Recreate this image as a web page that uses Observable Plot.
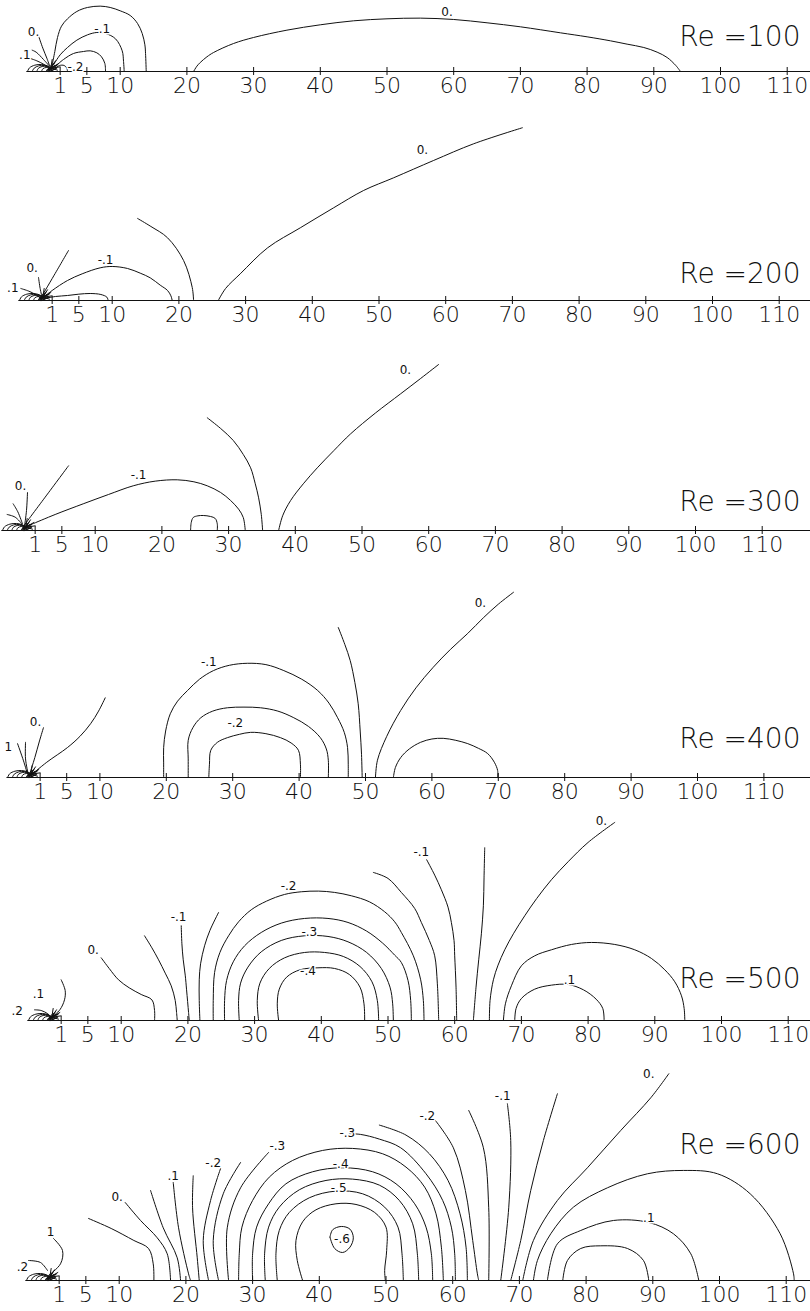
<!DOCTYPE html>
<html><head><meta charset="utf-8">
<script src="https://cdn.jsdelivr.net/npm/d3@7"></script>
<script src="https://cdn.jsdelivr.net/npm/@observablehq/plot@0.6"></script>
<style>
body{margin:0;background:#fff}
#chart{position:relative;width:810px;height:1311px;overflow:hidden}
#chart svg{position:absolute;left:0;overflow:visible}
#chart text{font-weight:200}
#chart .clabel text{font-weight:400}
</style></head><body><div id="chart"></div>
<script>
// ---------- data (x along the axis, y above it, same units) ----------
const xTicks = [1,5,10,20,30,40,50,60,70,80,90,100,110];
const reNumbers = [100,200,300,400,500,600];

const nearBody = [
  [[-3.9,0],[-3.6,0.55],[-2.8,0.95],[-1.8,1.05],[-0.9,0.85],[-0.4,0.5]],
  [[-3.2,0],[-2.9,0.5],[-2.2,0.85],[-1.4,0.9],[-0.7,0.7],[-0.4,0.5]],
  [[-2.5,0],[-2.3,0.45],[-1.7,0.75],[-1.0,0.75],[-0.4,0.5]],
  [[-1.8,0],[-1.6,0.4],[-1.1,0.6],[-0.4,0.5]],
  [[-1.1,0],[-0.9,0.35],[-0.4,0.5]],
  [[-0.4,0.5],[0.3,1.6]],[[-0.4,0.5],[0.8,1.2]],[[-0.4,0.5],[1.0,0.7]],
  [[-0.4,0.5],[-0.2,1.8]],[[-0.4,0.5],[0.6,0.2]],[[-0.5,0.3],[0.2,0.9]],
  [[-0.6,0.2],[0.1,1.3]],[[-0.6,0.3],[0.5,0.9]],[[-0.7,0.1],[-0.1,1.1]],
  [[-0.8,0.1],[0.4,0.6]],[[-0.9,0.2],[0.0,0.8]],[[-0.7,0.0],[0.3,0.4]],
  [[-1.0,0.1],[-0.3,1.0]],[[-0.8,0.4],[0.6,1.0]],[[-0.5,0.0],[0.5,0.5]]
];

const re100Lines = [
  [[21,0],[21.5,0.8],[22,1.35],[23,2.2],[24,2.85],[27,4.2],[30,5.1],[35,6.2],[40,7.0],[45,7.6],[50,7.9],[55,8.0],[60,7.8],[65,7.3],[70,6.7],[76,5.8],[80,5.2],[83.5,4.6],[86,4.1],[88.5,3.6],[90.5,2.9],[92,2.1],[93.3,0.9],[94,0]],
  [[-0.2,1.0],[0.2,3.0],[0.6,5.1],[1.2,6.8],[2.1,7.9],[3.5,9.0],[5.1,9.6],[7,9.8],[8.5,9.6],[10,9.1],[11.5,8.4],[12.6,7.2],[13.3,5.7],[13.7,4],[13.8,2.7],[13.9,0]],
  [[0,1.0],[1,2.5],[2.1,3.6],[3.5,4.7],[5.1,5.5],[6.5,5.85],[7.8,5.7],[9.3,4.9],[10.3,3.1],[10.5,1.5],[10.6,0]],
  [[0.3,0.8],[1.5,1.8],[3,2.7],[4.5,3.0],[5.5,3.1],[6.5,2.8],[7.2,2.2],[7.7,1.2],[7.8,0]],
  [[0.3,0.5],[0.9,0.9],[1.6,0.9],[2.0,0.5],[2.1,0]],
  [[-0.6,0.9],[-1.0,2.0],[-1.6,3.5],[-2.2,5.2]],
  [[-0.8,0.6],[-1.5,1.1],[-2.5,1.6],[-3.6,2.0]],
  [[-0.6,0.8],[-1.5,1.8],[-2.6,2.9],[-3.2,3.2]]
];
const re100Labels = [["0.",-3,5.9],[".1",-4.3,2.4],["-.1",7.3,6.3],["-.2",3.3,0.7],["0.",59,8.9]];

const re200Lines = [
  [[25.9,0],[27,1.8],[29.2,4.0],[33.3,7.9],[38.2,10.9],[43.2,13.9],[47.7,16.5],[52.2,18.4],[58.2,21.0],[64.2,23.5],[71.5,25.9]],
  [[-0.75,0.3],[1.3,3.8],[3.45,7.5]],
  [[-0.5,0.4],[-0.8,1.8],[-1.05,3.45]],
  [[-0.7,0.3],[-1.5,0.9],[-2.5,1.4],[-3.7,1.8]],
  [[-0.4,0.4],[1,1.5],[3.3,3.0],[5.5,4.0],[8.2,4.9],[10,5.1],[12.3,4.8],[14.2,4.1],[15.7,3.4],[17.2,2.3],[18.3,1.5],[18.8,0.7],[19,0]],
  [[-0.2,0.3],[1.5,0.6],[3.3,0.75],[5,0.95],[6.7,1.05],[8.3,0.9],[9.2,0.5],[9.4,0]],
  [[13.8,12.3],[15.8,11.1],[18.3,9.4],[20.7,6.0],[22,1.95],[22.2,0]]
];
const re200Labels = [[".1",-4.9,1.9],["0.",-2,4.9],["-.1",9,6.0],["0.",56.5,22.6]];

const re300Lines = [
  [[-0.9,0.45],[2.5,5],[6,9.7]],
  [[-0.6,0.6],[-0.3,3],[-0.15,5.7]],
  [[-1,1.0],[-2,2.0],[-3.2,2.4]],
  [[-0.9,1.0],[-1.6,2.8],[-2.3,4.0]],
  [[0.75,1.05],[4,2.4],[8.2,4.0],[12,5.4],[15.7,6.7],[19,7.4],[22.3,7.6],[24.8,7.3],[26.8,6.7],[28.8,5.7],[30.3,4.5],[31.5,3.2],[32.2,1.95],[32.5,0]],
  [[24.3,0],[24.4,1.2],[24.7,1.95],[25.4,2.2],[26.2,2.25],[27.3,2.1],[28,1.8],[28.3,1.0],[28.3,0]],
  [[26.8,16.9],[28.8,15.3],[30.7,13.5],[32.2,11.4],[33.3,9.4],[34,7],[34.5,4.9],[34.9,2.4],[35.1,0]],
  [[37.5,0],[38.1,2.2],[39.3,4.5],[41.2,7],[43.3,9.4],[45.8,12],[48.3,14.5],[52,17.6],[55.8,20.5],[58.8,22.8],[61.5,24.9]]
];
const re300Labels = [["0.",-1.2,6.6],["-.1",16.5,8.3],["0.",56.5,24.1]];

const re400Lines = [
  [[19.6,0],[19.6,2.2],[19.6,4.5],[19.9,7],[20.6,9.6],[21.7,11.5],[23.2,13.1],[25,14.8],[27.1,16.1],[29.5,16.9],[32.2,17.2],[35,17],[37.7,16.1],[40.4,14.8],[42.8,13.1],[44.5,11.2],[45.8,9.0],[46.8,6.8],[47.3,4.5],[47.4,2],[47.4,0]],
  [[23.3,0],[23.3,2.8],[23.3,5.6],[24,7.5],[25.2,9.0],[27,10],[29.2,10.5],[31.7,10.6],[34.2,10.5],[36.8,10],[39.2,9.0],[41.4,7.7],[43.2,6.0],[44.1,4.3],[44.4,2.6],[44.4,0]],
  [[26.4,0],[26.5,2],[26.7,4.1],[27.7,5.3],[29.2,6.0],[31,6.5],[32.7,6.8],[35,6.6],[37.2,6.0],[38.8,5.2],[39.9,4.1],[40.2,2],[40.2,0]],
  [[45.9,22.6],[46.9,20],[47.7,17.6],[48.4,14.3],[48.9,11.1],[49.2,7],[49.4,3.5],[49.5,0]],
  [[51.5,0],[51.8,2.6],[53.2,6.2],[55.3,10.1],[57.6,13.5],[60.2,16.6],[62.8,19.3],[65.4,21.7],[67.8,24.1],[70,26.1],[72.3,27.9]],
  [[54.2,0],[54.5,1.5],[55.3,3.0],[56.6,4.3],[58.3,5.3],[60,5.8],[61.7,5.9],[63.6,5.6],[65.4,5.1],[67,4.4],[68.4,3.6],[69.4,2.3],[69.9,1.05],[69.9,0]],
  [[-0.45,0.3],[2,2.3],[5.1,4.5],[7,6.2],[8.6,8.1],[9.8,10],[10.8,12]],
  [[-0.6,0.45],[0.2,3],[0.9,5.5],[1.5,7.5]],
  [[-0.9,0.5],[-1.5,2.5],[-2.4,5.1]],
  [[-0.8,0.5],[-1.2,2.8],[-1.2,5.3]]
];
const re400Labels = [["0.",0.3,8.3],["1",-3.8,4.6],["-.1",26.4,17.4],["-.2",30.4,8.2],["0.",67.3,26.2]];

const re500Lines = [
  [[1,6.1],[1.6,4.5],[1.5,3.1],[0.8,1.6],[-0.3,0.6]],
  [[-3,1.6],[-2,1.5],[-1,1.0],[-0.5,0.5]],
  [[7.0,9.4],[8.2,7.8],[9.6,6.1],[11.2,4.9],[13,3.9],[14.6,3.1],[15,1.5],[15,0]],
  [[13.5,12.7],[14.6,10.9],[15.6,9.1],[16.6,7.1],[17.5,5.2],[18.1,3],[18.3,1.2],[18.4,0]],
  [[19,14.2],[19.1,11.5],[19.3,9.1],[19.6,6.8],[19.8,4.6],[20.1,1.2],[20.2,0]],
  [[24.6,16.2],[23.3,13.5],[22.5,11.2],[21.9,8.5],[21.7,6.1],[21.7,3],[21.8,0]],
  [[47.8,22.2],[50,21.3],[52,19.2],[54,16.8],[55,14.7],[56.2,12],[57,9.7],[57.4,5.5],[57.6,0]],
  [[23.8,0],[23.8,3],[24,7.2],[24.8,10.2],[26.1,12.7],[27.6,14.8],[29.5,16.6],[31.8,17.9],[34.5,18.9],[37,19.3],[39.6,19.4],[42,19.2],[44.5,18.7],[47.2,17.8],[49.5,16.3],[51,14.8],[52,13.2],[53.8,9.7],[54.9,6.1],[55.3,3],[55.4,0]],
  [[25.5,0],[25.5,3],[25.8,6],[26.8,8.8],[28.5,11.2],[31,13.2],[34,14.6],[37.5,15.3],[41,15.3],[44,14.7],[46.8,13.4],[49.2,11.6],[51,9.8],[52,8.7],[53,6],[53.4,3],[53.5,0]],
  [[27.7,0],[27.6,3],[27.9,5.6],[29,8],[31,10.3],[34,12],[37.5,12.7],[41,12.6],[44,11.8],[46.8,10.2],[49,7.8],[50.3,5],[50.7,2.5],[50.8,0]],
  [[30.6,0],[30.4,3],[30.8,5.6],[32.2,7.8],[34.5,9.4],[37.5,10.2],[40.5,10.2],[43.3,9.6],[45.8,8.1],[47.6,5.8],[48.4,3],[48.6,0]],
  [[33.6,0],[33.4,2.5],[33.7,4.7],[34.8,6.5],[36.8,7.6],[39.5,7.9],[42,7.8],[44.2,6.9],[45.8,5],[46.4,2.5],[46.5,0]],
  [[55.8,24.1],[57,21.8],[58,19.6],[59,17],[59.5,14.7],[59.9,12],[60,9.7],[60.2,5],[60.3,0]],
  [[64.5,25.9],[64.4,21.5],[64.3,17.2],[64,13],[63.6,9.1],[63.2,5],[62.8,0]],
  [[84,29.7],[80,26.7],[77,23.8],[74.5,21.1],[72.3,18.3],[70.5,15.7],[68.8,13],[67.5,10.6],[66.5,8.3],[65.8,6.1],[65.3,3],[65.2,0]],
  [[67.3,0],[67.6,2.5],[68.5,5.2],[70,8.2],[72,9.7],[74.5,10.6],[77.5,11.4],[80.5,11.7],[84,11.4],[87,10.6],[89.5,9.3],[91.5,7.6],[93,5.8],[94,3.7],[94.4,1.8],[94.5,0]],
  [[69,0],[69.2,1.8],[70,3.3],[72,4.7],[74.5,5.3],[77,5.4],[79.3,4.6],[81.2,3.2],[82.2,1.8],[82.4,0]]
];
const re500Labels = [[".2",-5.6,1.4],[".1",-2.4,3.9],["0.",5.8,10.5],["-.1",18.6,15.5],["-.2",35.1,20.2],["-.3",38.2,13.2],["-.4",38,7.4],["-.1",55,25.3],["0.",82,29.9],[".1",77.2,6.1]];

const re600Lines = [
  [[0.15,6.3],[1.5,4.5],[1.2,2.5],[-0.6,0.75]],
  [[-3.6,3],[-1.8,2.7],[-0.75,1.5]],
  [[15.2,0],[15.1,2.5],[14.4,4.8],[12.2,6],[8.8,7.8],[5.4,9.3]],
  [[17.7,0],[17.2,4.0],[15.7,6.4],[13.2,9],[10.9,11.7]],
  [[19.2,0],[18.7,3.4],[16.6,7.9],[14.7,13.5]],
  [[20.7,0],[20.4,1],[18.9,7.9],[18.1,14.7]],
  [[22,0],[21.7,3.4],[21,10.9],[21.1,15.7]],
  [[23.4,0],[22.6,6],[23.7,12],[25.2,16.8]],
  [[24.9,0],[24.1,6],[25.6,13],[28.2,17.7]],
  [[26.4,0],[26.2,7.9],[28.2,13.9],[32.4,19.2]],
  [[44.5,22],[46.2,21.9],[49,21.2],[52.2,19.9],[56,16],[58.5,12],[59.8,8],[60.3,4],[60.4,0]],
  [[49,23.3],[53,21.8],[56.5,19],[59.3,15],[61.1,10],[62,5],[62.2,0]],
  [[27.9,0],[28.0,4],[28.4,8],[30,12],[32.5,15.5],[36,18],[40.5,19.5],[45,19.8],[49.5,19],[53,17],[55.8,14],[57.5,10],[58.3,5],[58.6,0]],
  [[30,0],[30,4],[30.6,8],[32.4,11.5],[35,14.5],[39,16.3],[43.5,16.9],[48,16.3],[51.5,14.5],[54.3,11.5],[56,8],[56.8,4],[57,0]],
  [[31.9,0],[31.8,4],[32.4,8],[34,11],[37,13.6],[41,15],[45,15.2],[49,14.3],[52,12],[54,8.5],[54.7,4],[54.9,0]],
  [[33.7,0],[33.5,4],[34,7.5],[35.5,10.2],[38.5,12.4],[42.5,13.4],[46.5,13],[49.8,11],[51.8,8],[52.4,4],[52.6,0]],
  [[37.5,0],[36.7,3],[36.5,6],[37.5,8.8],[39.5,10.6],[42.5,11.5],[45.5,11.4],[48.3,10.2],[50,8],[50.1,4.5],[49.8,1.5],[49.9,0]],
  [[41.6,6.5],[42,7.6],[43.3,8.1],[44.6,7.7],[45.1,6.4],[44.6,5],[43.5,4.2],[42.3,4.8],[41.6,6.5]],
  [[57.4,24],[60.1,19.9],[61.9,13.5],[63,6],[63.7,1],[63.9,0]],
  [[62.4,25.5],[64.6,19.9],[65.4,10.9],[65.4,0]],
  [[68.2,26.5],[68.7,21],[68.4,10.9],[67.2,0]],
  [[75.7,28],[73.6,21],[71.7,13.5],[70.2,6],[68.7,0]],
  [[92.4,31],[89.7,27.4],[85.2,22.5],[80.2,16.9],[75.7,12],[72.1,6],[70.5,0]],
  [[72.1,0],[72.7,3],[74.7,7],[78.1,11],[83.2,13.9],[89.2,16],[94.6,16.5],[99.7,16],[104.6,13],[109.1,7],[111.1,1],[111.2,0]],
  [[74.2,0],[75.7,5.5],[79.2,7.5],[84.1,9],[89.4,8.7],[93.1,7],[95.7,4],[96.9,0]],
  [[76.5,0],[77.2,3],[79.2,4.8],[82.2,5.2],[86.2,4.8],[88.6,3],[89.4,0]]
];
const re600Labels = [["1",-0.3,7.3],[".2",-4.5,2],["0.",9.7,12.5],[".1",18.1,15.6],["-.2",24.1,17.6],["-.3",33.7,20.1],["-.3",44.2,22.1],["-.4",43.2,17.4],["-.5",42.9,13.8],["-.6",43.4,6.2],["-.2",56.2,24.6],["-.1",67.5,27.6],["0.",89.4,30.9],[".1",89.4,9.3]];

const panelsData = [
  [re100Lines, re100Labels], [re200Lines, re200Labels], [re300Lines, re300Labels],
  [re400Lines, re400Labels], [re500Lines, re500Labels], [re600Lines, re600Labels]
];

// ---------- layout (pixels) ----------
const layout = [
  {top:0,    height:103, axis:71,   x0:53, k:6.67, reDy:-25.5},
  {top:103,  height:229, axis:300,  x0:45, k:6.67, reDy:-17.5},
  {top:332,  height:230, axis:530,  x0:28, k:6.67, reDy:-19.5},
  {top:562,  height:247, axis:777,  x0:33, k:6.64, reDy:-29.5},
  {top:809,  height:241, axis:1020, x0:54, k:6.67, reDy:-32.5},
  {top:1050, height:261, axis:1280, x0:52, k:6.67, reDy:-126.5}
];

const font = "'DejaVu Sans', 'DejaVu Sans Condensed', sans-serif";
const chart = document.getElementById("chart");

layout.forEach((cfg, i) => {
  const [lines, labels] = panelsData[i];
  const all = lines.concat(nearBody);
  const rows = all.flatMap((pts, j) => pts.map(([x, y]) => ({x, y, id: j})));
  const k = cfg.k;
  const svg = Plot.plot({
    width: 810, height: cfg.height,
    marginTop: 0, marginRight: 0,
    marginLeft: cfg.x0 - 4 * k,
    marginBottom: cfg.top + cfg.height - cfg.axis,
    x: {domain: [-4, (810 - cfg.x0) / k], axis: null, label: null},
    y: {domain: [0, (cfg.axis - cfg.top) / k], axis: null, label: null},
    style: {fontFamily: font, background: "transparent", color: "#111", overflow: "visible"},
    marks: [
      Plot.ruleY([0], {stroke: "#111", strokeWidth: 1}),
      Plot.axisX({ticks: xTicks, tickSize: 8, dy: -4, tickFormat: () => "", stroke: "#111"}),
      Plot.axisX({ticks: xTicks, tickSize: 0, tickPadding: 6, fontSize: 22, fill: "#111"}),
      Plot.line(rows, {x: "x", y: "y", z: "id", curve: "catmull-rom", stroke: "#111", strokeWidth: 1}),
      Plot.text(labels, {x: d => d[1], y: d => d[2], text: d => d[0], fontSize: 12, fill: "#111", stroke: "white", strokeWidth: 3, className: "clabel"}),
      Plot.text(["Re =" + reNumbers[i]], {frameAnchor: "bottom-right", textAnchor: "end", dx: -10, dy: cfg.reDy, fontSize: 28, fill: "#111", letterSpacing: "-1.5px"})
    ]
  });
  svg.style.top = cfg.top + "px";
  chart.appendChild(svg);
});
</script></body></html>
